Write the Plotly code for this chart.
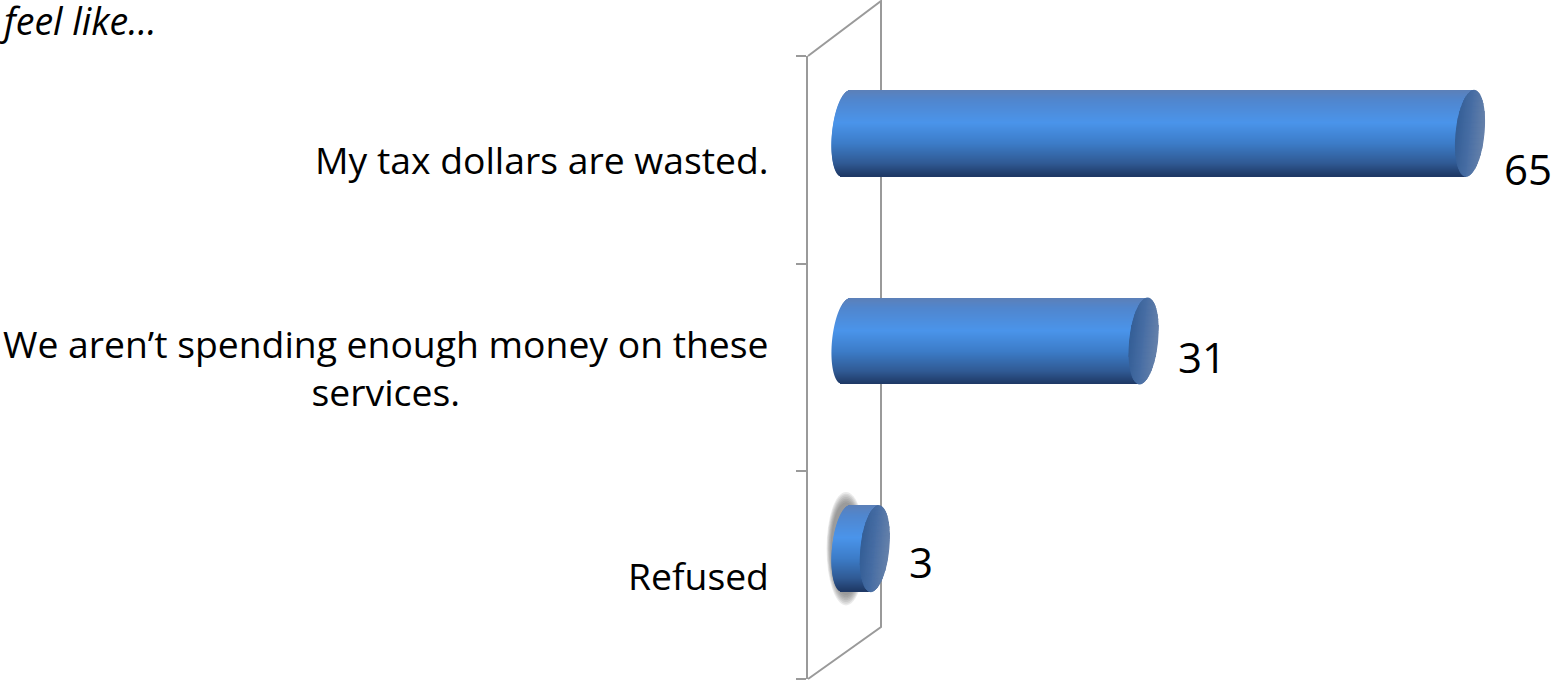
import numpy as np
import plotly.graph_objects as go

# ---- data ----
categories = ["My tax dollars are wasted.", "We aren’t spending enough money on these services.", "Refused"]
category_text = ["My tax dollars are wasted.", "We aren’t spending enough money on these<br>services.", "Refused"]
values = [65, 31, 3]
heading = "feel like…"

# ---- layout constants (pixels of the 1553x682 page) ----
W, H = 1553, 682
PX_LEFT, PX_TOP, PX_BOTTOM = 808, 56, 679
PX_ZERO, PX_PER_UNIT = 846, 9.6
PX_PER_CAT = (PX_BOTTOM - PX_TOP) / 3
LABEL_DY = [9, -11, -14]

xr = [(PX_LEFT - PX_ZERO) / PX_PER_UNIT, (W - PX_ZERO) / PX_PER_UNIT]
RX = 14 / PX_PER_UNIT
SHEAR = 4 / PX_PER_UNIT
BAR_H = 86 / PX_PER_CAT
BAR_SHIFT = 26.5 / PX_PER_CAT
N_BANDS = 86
N_STRIPS = 28
GRAY = "#9a9a9a"


def lerp_color(stops, f):
    ps = [s[0] for s in stops]
    rgb = [np.interp(f, ps, [s[1][i] for s in stops]) for i in range(3)]
    return "rgb(%d,%d,%d)" % tuple(int(round(c)) for c in rgb)


side_stops = [(0, (92, 128, 184)), (0.12, (80, 134, 206)), (0.38, (74, 148, 234)),
              (0.62, (60, 124, 200)), (0.85, (48, 90, 148)), (1, (30, 56, 100))]
cap_stops = [(0, (52, 94, 150)), (0.5, (72, 110, 164)), (1, (100, 128, 170))]

cats_bottom_up = categories[::-1]
fig = go.Figure()

# cylinder side: stacked thin bars giving the vertical gradient
for k in range(N_BANDS):
    f = (k + 0.5) / N_BANDS  # 0 = top, 1 = bottom
    t = 1 - 2 * f
    left = SHEAR * t - RX * np.sqrt(max(0, 1 - t * t))
    base = [left] * len(values)
    length = [v + SHEAR * t - left for v in values]
    band_h = BAR_H / N_BANDS
    off = BAR_SHIFT + BAR_H / 2 - (k + 1) * band_h
    fig.add_trace(go.Bar(
        y=categories, x=length, base=base, orientation="h",
        width=band_h, offset=off,
        marker=dict(color=lerp_color(side_stops, f), line=dict(width=0)),
        hoverinfo="skip", showlegend=False,
    ))

shapes = []


def yp(py):
    return (H - py) / H


def xp(px):
    return px / W


# back wall of the 3-D chart
wall = "M %f %f L %f %f L %f %f L %f %f" % (
    xp(808), yp(56), xp(881), yp(1), xp(881), yp(627), xp(808), yp(679))
shapes.append(dict(type="path", path=wall, xref="paper", yref="paper", layer="below",
                   line=dict(color=GRAY, width=2)))

n = len(categories)
for i, v in enumerate(values):
    yc = n - 1 - i + BAR_SHIFT
    ry = BAR_H / 2
    # soft glow behind the small bar only
    if v < 5:
        for dx, dy in [(1.25, 1.32), (1.2, 1.28), (1.15, 1.24), (1.1, 1.2), (1.05, 1.16), (1.0, 1.12), (0.95, 1.08)]:
            shapes.append(dict(type="circle", xref="x", yref="y", layer="below",
                               x0=-RX * dx - 0.2, x1=RX * dx + 0.2,
                               y0=yc - ry * dy, y1=yc + ry * dy,
                               fillcolor="rgba(90,90,90,0.12)", line=dict(width=0)))
    # end cap: vertical strips giving the horizontal gradient
    edges = np.linspace(-1, 1, N_STRIPS + 1)
    for j in range(N_STRIPS):
        a = np.linspace(edges[j], edges[j + 1], 4)
        top = [(v + RX * q + SHEAR * np.sqrt(1 - q * q), yc + ry * np.sqrt(1 - q * q)) for q in a]
        bot = [(v + RX * q - SHEAR * np.sqrt(1 - q * q), yc - ry * np.sqrt(1 - q * q)) for q in a[::-1]]
        pts = top + bot
        path = "M " + " L ".join("%.4f %.4f" % p for p in pts) + " Z"
        col = lerp_color(cap_stops, (j + 0.5) / N_STRIPS)
        shapes.append(dict(type="path", path=path, xref="x", yref="y", layer="above",
                           fillcolor=col, line=dict(color=col, width=1)))

font = "Open Sans"
annotations = []
for i, (txt, v) in enumerate(zip(category_text, values)):
    annotations.append(dict(
        xref="paper", yref="y", x=xp(771), y=categories[i], text=txt, showarrow=False,
        xanchor="right", yanchor="middle", align="center",
        font=dict(family=font, size=37.3, color="#000000")))
    annotations.append(dict(
        xref="x", yref="y", x=v, y=categories[i], text=str(v), showarrow=False,
        xanchor="left", yanchor="middle", xshift=32, yshift=-LABEL_DY[i],
        font=dict(family=font, size=42, color="#000000")))
annotations.append(dict(
    xref="paper", yref="paper", x=xp(-3), y=yp(21), text="<i>%s</i>" % heading, showarrow=False,
    xanchor="left", yanchor="middle",
    font=dict(family=font, size=37.5, color="#000000")))

fig.update_layout(
    width=W, height=H,
    margin=dict(l=0, r=0, t=0, b=0),
    paper_bgcolor="white", plot_bgcolor="rgba(0,0,0,0)",
    barmode="overlay", showlegend=False,
    shapes=shapes, annotations=annotations,
    xaxis=dict(domain=[xp(PX_LEFT), 1], range=xr, visible=False),
    yaxis=dict(domain=[yp(PX_BOTTOM), yp(PX_TOP)], type="category",
               categoryorder="array", categoryarray=cats_bottom_up,
               range=[-0.5, n - 0.5], showgrid=False, zeroline=False,
               showline=True, linecolor=GRAY, linewidth=2,
               ticks="outside", tickson="boundaries", ticklen=10, tickcolor=GRAY, tickwidth=2,
               showticklabels=False),
)
fig.write_html("out.html", config=dict(displayModeBar=False),
               post_script="document.body.style.margin='0';document.body.style.overflow='hidden';")
